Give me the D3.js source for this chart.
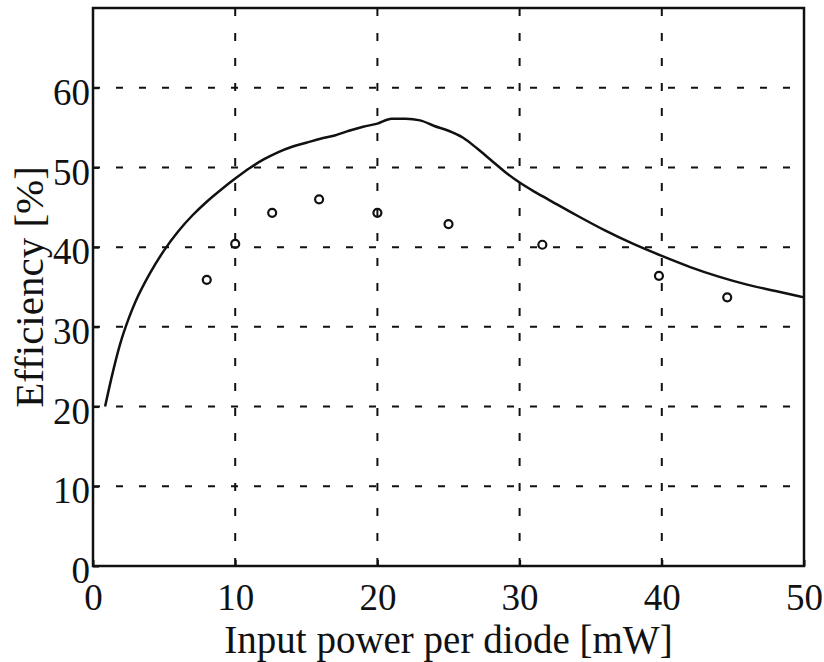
<!DOCTYPE html>
<html>
<head>
<meta charset="utf-8">
<script src="https://cdn.jsdelivr.net/npm/d3@7"></script>
<style>
  body { margin: 0; background: #fff; }
  svg { display: block; font-family: 'Liberation Serif', 'Times New Roman', serif; }
</style>
</head>
<body>
<div id="root"></div>
<script>
// model curve (efficiency vs input power)
const curvePower = [0.85, 1.3, 1.9, 2.5, 3, 4, 5, 6, 7, 8, 9, 10, 11, 12, 13, 14, 15, 16, 17, 18, 19, 20, 21, 22, 23, 24, 25, 26, 27, 28, 29, 30, 31, 32, 34, 36, 38, 40, 42, 44, 46, 48, 50];
const curveEff = [20, 23.6, 27.8, 31, 33.2, 36.7, 39.6, 42.0, 44.0, 45.7, 47.2, 48.6, 49.9, 51.0, 51.9, 52.6, 53.1, 53.6, 54.0, 54.6, 55.1, 55.5, 56.1, 56.1, 55.9, 55.2, 54.6, 53.75, 52.4, 50.9, 49.4, 48.1, 47.0, 46.0, 44.0, 42.1, 40.4, 38.9, 37.5, 36.3, 35.3, 34.5, 33.7];

// measured points
const measPower = [8.0, 10.0, 12.6, 15.9, 20.0, 25.0, 31.6, 39.8, 44.6];
const measEff = [35.9, 40.4, 44.3, 46.0, 44.3, 42.9, 40.3, 36.4, 33.7];

const xTicks = [0, 10, 20, 30, 40, 50];
const yTicks = [0, 10, 20, 30, 40, 50, 60];
const xGrid = [10, 20, 30, 40];
const yGrid = [10, 20, 30, 40, 50, 60];

const width = 824;
const height = 662;
const margin = { top: 8, right: 20, bottom: 96, left: 93 };
const chartWidth = width - margin.left - margin.right;
const chartHeight = height - margin.top - margin.bottom;

const svg = d3.select('#root').append('svg')
  .attr('width', width)
  .attr('height', height);

const chart = svg.append('g')
  .attr('transform', `translate(${margin.left}, ${margin.top})`);

const xScale = d3.scaleLinear().domain([0, 50]).range([0, chartWidth]);
const yScale = d3.scaleLinear().domain([0, 70]).range([chartHeight, 0]);

// grid
chart.append('g')
  .selectAll('line')
  .data(yGrid)
  .enter()
  .append('line')
  .attr('x1', 0)
  .attr('x2', chartWidth)
  .attr('y1', d => yScale(d))
  .attr('y2', d => yScale(d))
  .attr('stroke', '#111')
  .attr('stroke-width', 2)
  .attr('stroke-dasharray', '7,16');

chart.append('g')
  .selectAll('line')
  .data(xGrid)
  .enter()
  .append('line')
  .attr('x1', d => xScale(d))
  .attr('x2', d => xScale(d))
  .attr('y1', 0)
  .attr('y2', chartHeight)
  .attr('stroke', '#111')
  .attr('stroke-width', 2)
  .attr('stroke-dasharray', '8,17');

// axes
const xAxis = d3.axisBottom(xScale)
  .tickValues(xTicks)
  .tickSizeInner(-6)
  .tickSizeOuter(0)
  .tickPadding(18);

chart.append('g')
  .attr('transform', `translate(0, ${chartHeight})`)
  .call(xAxis)
  .call(g => g.select('.domain').remove())
  .call(g => g.selectAll('.tick line').attr('stroke', '#111').attr('stroke-width', 2))
  .call(g => g.selectAll('.tick text')
    .attr('font-size', 37)
    .attr('font-family', "'Liberation Serif', serif")
    .attr('fill', '#111'));

const yAxis = d3.axisLeft(yScale)
  .tickValues(yTicks)
  .tickSizeInner(-6)
  .tickSizeOuter(0)
  .tickPadding(3);

chart.append('g')
  .call(yAxis)
  .call(g => g.select('.domain').remove())
  .call(g => g.selectAll('.tick line').attr('stroke', '#111').attr('stroke-width', 2))
  .call(g => g.selectAll('.tick text')
    .attr('font-size', 37)
    .attr('font-family', "'Liberation Serif', serif")
    .attr('dy', '0.45em')
    .attr('fill', '#111'));

// frame
chart.append('rect')
  .attr('x', 0)
  .attr('y', 0)
  .attr('width', chartWidth)
  .attr('height', chartHeight)
  .attr('fill', 'none')
  .attr('stroke', '#111')
  .attr('stroke-width', 2.5);

// curve
const line = d3.line()
  .x(d => xScale(d[0]))
  .y(d => yScale(d[1]))
  .curve(d3.curveMonotoneX);

chart.append('path')
  .datum(d3.zip(curvePower, curveEff))
  .attr('d', line)
  .attr('fill', 'none')
  .attr('stroke', '#111')
  .attr('stroke-width', 2.5);

// measured points
chart.selectAll('circle')
  .data(d3.zip(measPower, measEff))
  .enter()
  .append('circle')
  .attr('cx', d => xScale(d[0]))
  .attr('cy', d => yScale(d[1]))
  .attr('r', 4)
  .attr('fill', 'none')
  .attr('stroke', '#111')
  .attr('stroke-width', 2.2);

// labels
svg.append('text')
  .attr('x', margin.left + chartWidth / 2)
  .attr('y', 653)
  .attr('text-anchor', 'middle')
  .attr('font-size', 39)
  .attr('fill', '#111')
  .text('Input power per diode [mW]');

svg.append('text')
  .attr('transform', `translate(43, ${margin.top + chartHeight / 2}) rotate(-90)`)
  .attr('text-anchor', 'middle')
  .attr('font-size', 41)
  .attr('fill', '#111')
  .text('Efficiency [%]');
</script>
</body>
</html>
